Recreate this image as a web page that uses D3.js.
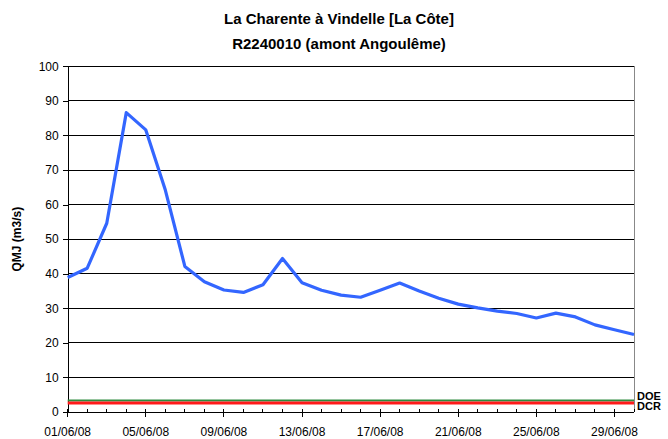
<!DOCTYPE html>
<html>
<head>
<meta charset="utf-8">
<script src="https://cdnjs.cloudflare.com/ajax/libs/d3/7.8.5/d3.min.js"></script>
<style>
  body { margin: 0; background: #fff; }
  text { font-family: Arial, "Liberation Sans", sans-serif; }
</style>
</head>
<body>
<script>
// Daily flow values (QMJ, m3/s), June 2008
var days = d3.range(1, 31);
var flows = [38.9, 41.6, 54.6, 86.6, 81.6, 64.2, 42.1, 37.7, 35.3, 34.6,
             36.8, 44.4, 37.4, 35.2, 33.8, 33.2, 35.2, 37.3, 35.0, 32.9,
             31.2, 30.1, 29.2, 28.5, 27.2, 28.6, 27.5, 25.2, 23.8, 22.4];
// Threshold flows
var thresholds = [
  { name: "DOE", value: 3.3, color: "#2e8b3e" },
  { name: "DCR", value: 2.6, color: "#ff1a1a" }
];
var yTicks = d3.range(0, 101, 10);
var labelDays = [1, 5, 9, 13, 17, 21, 25, 29];

var width = 668, height = 439;
var margin = { left: 67.7, right: 34, top: 66.3, bottom: 27 };

var svg = d3.select("body").append("svg")
    .attr("width", width)
    .attr("height", height);

var x = d3.scaleLinear()
    .domain([1, 30])
    .range([margin.left, width - margin.right]);

var y = d3.scaleLinear()
    .domain([0, 100])
    .range([height - margin.bottom, margin.top]);

// Title
var title = svg.append("text")
    .attr("x", 339)
    .attr("text-anchor", "middle")
    .style("font-weight", "bold")
    .style("font-size", "15px");
title.append("tspan").attr("x", 339).attr("y", 24).text("La Charente à Vindelle [La Côte]");
title.append("tspan").attr("x", 339).attr("y", 49).text("R2240010 (amont Angoulême)");

// Gridlines
svg.append("g")
  .selectAll("line")
  .data(yTicks.filter(function(d) { return d > 0; }))
  .enter().append("line")
    .attr("x1", margin.left)
    .attr("x2", width - margin.right)
    .attr("y1", function(d) { return y(d); })
    .attr("y2", function(d) { return y(d); })
    .attr("stroke", "#000")
    .attr("stroke-width", 1)
    .attr("shape-rendering", "crispEdges");

// Right border
svg.append("line")
    .attr("x1", width - margin.right).attr("x2", width - margin.right)
    .attr("y1", y(100)).attr("y2", y(0))
    .attr("stroke", "#888")
    .attr("shape-rendering", "crispEdges");

// Y axis
var yAxis = svg.append("g")
    .attr("transform", "translate(" + margin.left + ",0)")
    .call(d3.axisLeft(y).tickValues(yTicks).tickSize(5).tickPadding(4));
yAxis.select(".domain").attr("stroke", "#000").attr("shape-rendering", "crispEdges");
yAxis.selectAll("line").attr("shape-rendering", "crispEdges");
yAxis.selectAll("text").style("font-size", "12px").attr("fill", "#000")
    .style("font-family", "Arial, 'Liberation Sans', sans-serif");

// X axis: minor ticks each day (inside), major ticks every 4 days (outside)
var xAxisG = svg.append("g")
    .attr("transform", "translate(0," + y(0) + ")");
xAxisG.append("line")
    .attr("x1", margin.left).attr("x2", width - margin.right)
    .attr("stroke", "#000")
    .attr("shape-rendering", "crispEdges");
xAxisG.selectAll(".minor")
  .data(days)
  .enter().append("line")
    .attr("class", "minor")
    .attr("x1", function(d) { return x(d); })
    .attr("x2", function(d) { return x(d); })
    .attr("y1", -3).attr("y2", 0)
    .attr("stroke", "#000")
    .attr("shape-rendering", "crispEdges");
xAxisG.selectAll(".major")
  .data(labelDays)
  .enter().append("line")
    .attr("class", "major")
    .attr("x1", function(d) { return x(d); })
    .attr("x2", function(d) { return x(d); })
    .attr("y1", 0).attr("y2", 5)
    .attr("stroke", "#000")
    .attr("shape-rendering", "crispEdges");
xAxisG.selectAll(".lbl")
  .data(labelDays)
  .enter().append("text")
    .attr("class", "lbl")
    .attr("x", function(d) { return x(d); })
    .attr("y", 24)
    .attr("text-anchor", "middle")
    .style("font-size", "12px")
    .text(function(d) { return (d < 10 ? "0" + d : d) + "/06/08"; });

// Y axis label
svg.append("text")
    .attr("transform", "translate(21," + ((y(0) + y(100)) / 2) + ") rotate(-90)")
    .attr("text-anchor", "middle")
    .style("font-weight", "bold")
    .style("font-size", "12px")
    .text("QMJ (m3/s)");

// Threshold lines
thresholds.forEach(function(t, i) {
  svg.append("line")
      .attr("x1", margin.left).attr("x2", width - margin.right)
      .attr("y1", y(t.value)).attr("y2", y(t.value))
      .attr("stroke", t.color)
      .attr("stroke-width", i == 0 ? 2 : 3);
  svg.append("text")
      .attr("x", width - margin.right + 3)
      .attr("y", i == 0 ? 399.5 : 410)
      .style("font-weight", "bold")
      .style("font-size", "11px")
      .text(t.name);
});

// Flow line
var line = d3.line()
    .x(function(d, i) { return x(days[i]); })
    .y(function(d) { return y(d); });

svg.append("path")
    .datum(flows)
    .attr("d", line)
    .attr("fill", "none")
    .attr("stroke", "#3366ff")
    .attr("stroke-width", 3.2)
    .attr("stroke-linejoin", "round");
</script>
</body>
</html>
